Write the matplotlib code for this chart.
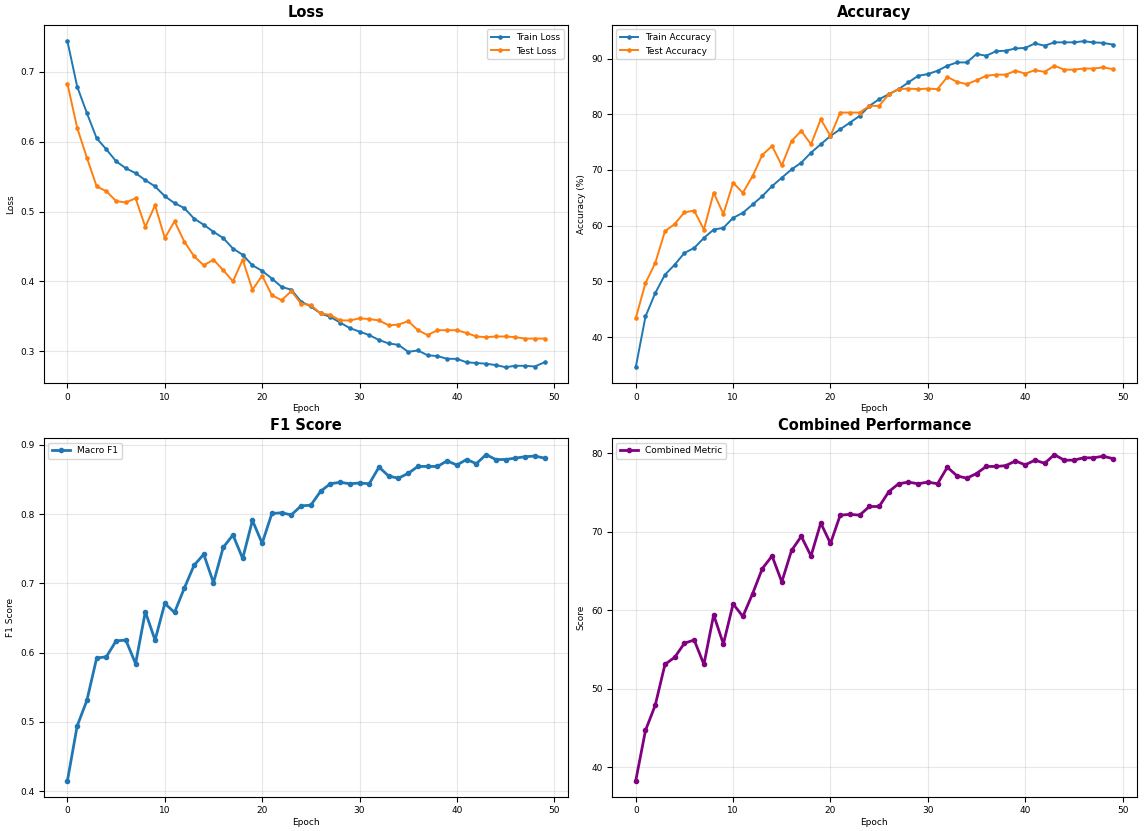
import matplotlib

matplotlib.use("Agg")
import matplotlib.pyplot as plt
import numpy as np


epochs = np.arange(50)

train_loss = [0.744, 0.679, 0.641, 0.605, 0.589, 0.572, 0.562, 0.555, 0.545, 0.536,
              0.522, 0.512, 0.505, 0.490, 0.481, 0.471, 0.462, 0.447, 0.438, 0.423,
              0.415, 0.404, 0.392, 0.388, 0.371, 0.364, 0.354, 0.349, 0.341, 0.333,
              0.328, 0.323, 0.316, 0.311, 0.309, 0.299, 0.301, 0.294, 0.293, 0.289,
              0.289, 0.284, 0.283, 0.282, 0.280, 0.277, 0.279, 0.279, 0.278, 0.284]
test_loss = [0.683, 0.620, 0.577, 0.536, 0.529, 0.515, 0.513, 0.519, 0.478, 0.509,
             0.462, 0.486, 0.457, 0.436, 0.423, 0.431, 0.416, 0.400, 0.431, 0.388,
             0.408, 0.380, 0.373, 0.386, 0.368, 0.366, 0.354, 0.352, 0.344, 0.344,
             0.347, 0.346, 0.344, 0.337, 0.338, 0.343, 0.330, 0.323, 0.330, 0.330,
             0.330, 0.326, 0.321, 0.320, 0.321, 0.321, 0.320, 0.318, 0.318, 0.318]

train_acc = [34.6, 43.7, 47.9, 51.2, 53.0, 55.1, 56.0, 57.8, 59.3, 59.6,
             61.4, 62.3, 63.8, 65.3, 67.1, 68.6, 70.1, 71.3, 73.1, 74.6,
             76.1, 77.3, 78.5, 79.7, 81.5, 82.7, 83.6, 84.5, 85.7, 86.9,
             87.2, 87.8, 88.7, 89.3, 89.3, 90.8, 90.5, 91.3, 91.4, 91.8,
             91.9, 92.7, 92.3, 92.9, 92.9, 92.9, 93.1, 92.9, 92.8, 92.5]
test_acc = [43.4, 49.7, 53.3, 59.0, 60.3, 62.4, 62.7, 59.3, 65.9, 62.1,
            67.7, 65.9, 68.9, 72.7, 74.3, 70.8, 75.2, 77.0, 74.6, 79.1,
            76.1, 80.3, 80.3, 80.3, 81.5, 81.5, 83.6, 84.5, 84.6, 84.5,
            84.6, 84.5, 86.7, 85.8, 85.4, 86.1, 86.9, 87.1, 87.1, 87.8,
            87.3, 87.9, 87.6, 88.7, 88.0, 88.0, 88.2, 88.2, 88.4, 88.1]

macro_f1 = [0.415, 0.494, 0.531, 0.592, 0.594, 0.617, 0.618, 0.584, 0.659, 0.618,
            0.671, 0.658, 0.693, 0.726, 0.742, 0.701, 0.752, 0.770, 0.736, 0.791,
            0.758, 0.801, 0.802, 0.799, 0.812, 0.813, 0.833, 0.844, 0.846, 0.844,
            0.845, 0.844, 0.868, 0.855, 0.852, 0.859, 0.869, 0.869, 0.869, 0.877,
            0.871, 0.879, 0.873, 0.886, 0.879, 0.879, 0.881, 0.883, 0.884, 0.881]

combined = [38.3, 44.7, 47.9, 53.1, 54.0, 55.8, 56.2, 53.1, 59.4, 55.7,
            60.8, 59.2, 62.1, 65.3, 66.9, 63.6, 67.6, 69.4, 66.9, 71.1,
            68.5, 72.1, 72.2, 72.1, 73.2, 73.2, 75.1, 76.1, 76.3, 76.1,
            76.3, 76.1, 78.2, 77.1, 76.8, 77.4, 78.3, 78.3, 78.4, 79.0,
            78.5, 79.1, 78.7, 79.8, 79.1, 79.1, 79.4, 79.4, 79.6, 79.3]

FS = 6.5

fig, axes = plt.subplots(2, 2, figsize=(11.47, 8.31), dpi=100)
ax1, ax2, ax3, ax4 = axes.flatten()

ax1.plot(epochs, train_loss, marker="o", markersize=2.3, linewidth=1.4, label="Train Loss")
ax1.plot(epochs, test_loss, marker="o", markersize=2.3, linewidth=1.4, label="Test Loss")
ax1.set_title("Loss", fontsize=10.5, fontweight="bold")
ax1.set_ylabel("Loss", fontsize=FS)
ax1.legend(loc="upper right", fontsize=FS)

ax2.plot(epochs, train_acc, marker="o", markersize=2.3, linewidth=1.4, label="Train Accuracy")
ax2.plot(epochs, test_acc, marker="o", markersize=2.3, linewidth=1.4, label="Test Accuracy")
ax2.set_title("Accuracy", fontsize=10.5, fontweight="bold")
ax2.set_ylabel("Accuracy (%)", fontsize=FS)
ax2.legend(loc="upper left", fontsize=FS)

ax3.plot(epochs, macro_f1, marker="o", markersize=3, linewidth=2, color="#1f77b4", label="Macro F1")
ax3.set_title("F1 Score", fontsize=10.5, fontweight="bold")
ax3.set_ylabel("F1 Score", fontsize=FS)
ax3.legend(loc="upper left", fontsize=FS)

ax4.plot(epochs, combined, marker="o", markersize=3, linewidth=2, color="purple", label="Combined Metric")
ax4.set_title("Combined Performance", fontsize=10.5, fontweight="bold")
ax4.set_ylabel("Score", fontsize=FS)
ax4.legend(loc="upper left", fontsize=FS)

for ax in (ax1, ax2, ax3, ax4):
    ax.set_xlabel("Epoch", fontsize=FS, labelpad=2)
    ax.tick_params(labelsize=FS, pad=3)
    ax.grid(True, alpha=0.3)

fig.subplots_adjust(left=0.038, right=0.991, top=0.970, bottom=0.041, wspace=0.083, hspace=0.153)
fig.savefig("out.png", dpi=100)
